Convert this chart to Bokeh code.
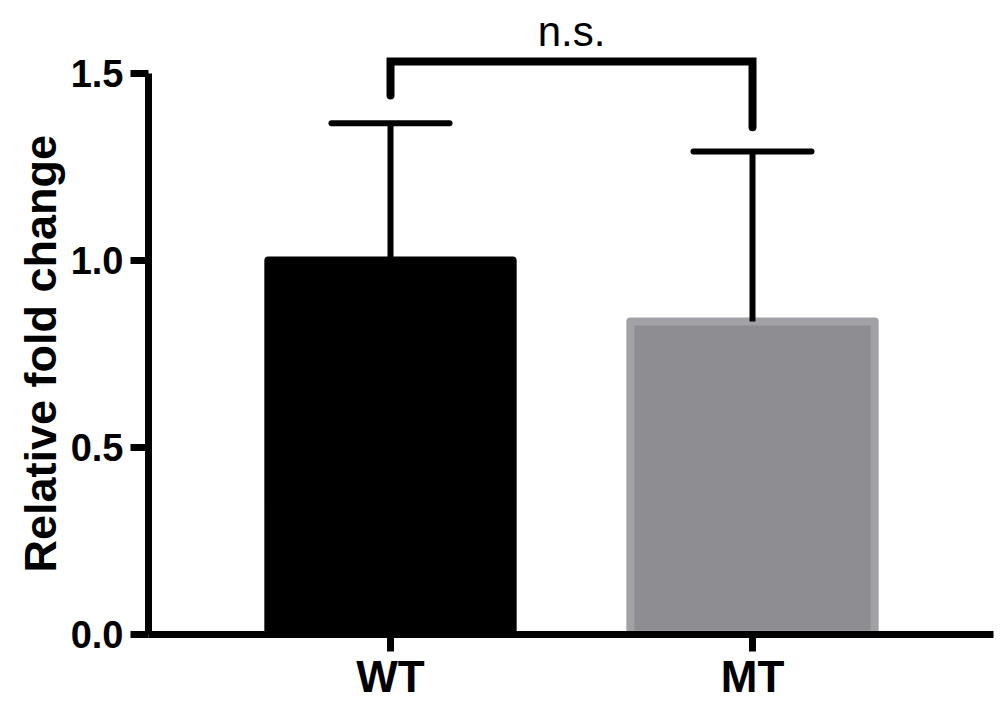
from bokeh.plotting import figure
from bokeh.models import ColumnDataSource, FixedTicker, Range1d, PrintfTickFormatter, Title
from bokeh.core.properties import value
from bokeh.embed import file_html
from bokeh.resources import INLINE

# ---- data ----
categories = ["WT", "MT"]
positions = [1, 2]
means = [1.0, 0.837]
upper = [1.367, 1.291]
bar_fill = ["#000000", "#8e8d92"]
bar_line = ["#000000", "#a2a1a5"]
y_ticks = [0.0, 0.5, 1.0, 1.5]
y_title = "Relative fold change"
sig_label = "n.s."

FONT = "Liberation Sans"

p = figure(width=1000, height=703, output_backend="svg", toolbar_location=None,
           x_range=Range1d(0.3315, 2.6657), y_range=Range1d(0, 1.695),
           min_border_left=148, min_border_right=7, min_border_top=0, min_border_bottom=69)
p.outline_line_color = None
p.xgrid.visible = False
p.ygrid.visible = False
p.background_fill_color = "white"
p.border_fill_color = "white"

src = ColumnDataSource(dict(x=positions, top=means, up=upper, fill=bar_fill, line=bar_line,
                            cl=[x - 0.163 for x in positions], cr=[x + 0.163 for x in positions]))

p.vbar(x="x", top="top", bottom=0, width=0.675, fill_color="fill", line_color="line",
       line_width=8, line_join="round", source=src)
# error bars (upper only)
p.segment(x0="x", y0="top", x1="x", y1="up", line_color="black", line_width=6, source=src)
p.segment(x0="cl", y0="up", x1="cr", y1="up", line_color="black", line_width=6,
          line_cap="round", source=src)

# significance bracket
bracket_top = max(upper) + 0.165
left_leg = upper[0] + 0.074
right_leg = upper[1] + 0.065
p.line(x=[positions[0], positions[0], positions[1], positions[1]],
       y=[left_leg, bracket_top, bracket_top, right_leg],
       line_color="black", line_width=8, line_join="miter", line_cap="round")
p.text(x=[(positions[0] + positions[1]) / 2], y=[bracket_top + 0.08], text=[sig_label],
       text_align="center", text_baseline="alphabetic",
       text_font=value(FONT), text_font_size="42px", text_color="black")

# y axis
ya = p.yaxis[0]
ya.ticker = FixedTicker(ticks=y_ticks)
ya.formatter = PrintfTickFormatter(format="%.1f")
ya.bounds = (0, 1.5)
ya.axis_line_width = 7
ya.major_tick_line_width = 7
ya.major_tick_out = 18
ya.major_tick_in = 0
ya.minor_tick_line_color = None
ya.major_label_standoff = 7
ya.major_label_text_font = FONT
ya.major_label_text_font_style = "bold"
ya.major_label_text_font_size = "38px"
ya.major_label_text_color = "black"

# y axis title, aligned with the axis' drawn span
p.add_layout(Title(text=y_title, align="left", offset=62, standoff=4,
                   text_font=FONT, text_font_style="bold", text_font_size="45px",
                   text_color="black"), "left")

# x axis
xa = p.xaxis[0]
xa.ticker = FixedTicker(ticks=positions)
xa.major_label_overrides = {pos: cat for pos, cat in zip(positions, categories)}
xa.axis_line_width = 7
xa.major_tick_line_width = 7
xa.major_tick_out = 17
xa.major_tick_in = 0
xa.minor_tick_line_color = None
xa.major_label_standoff = 0
xa.major_label_text_font = FONT
xa.major_label_text_font_style = "bold"
xa.major_label_text_font_size = "44px"
xa.major_label_text_color = "black"

open("out.html", "w").write(file_html(p, INLINE))
